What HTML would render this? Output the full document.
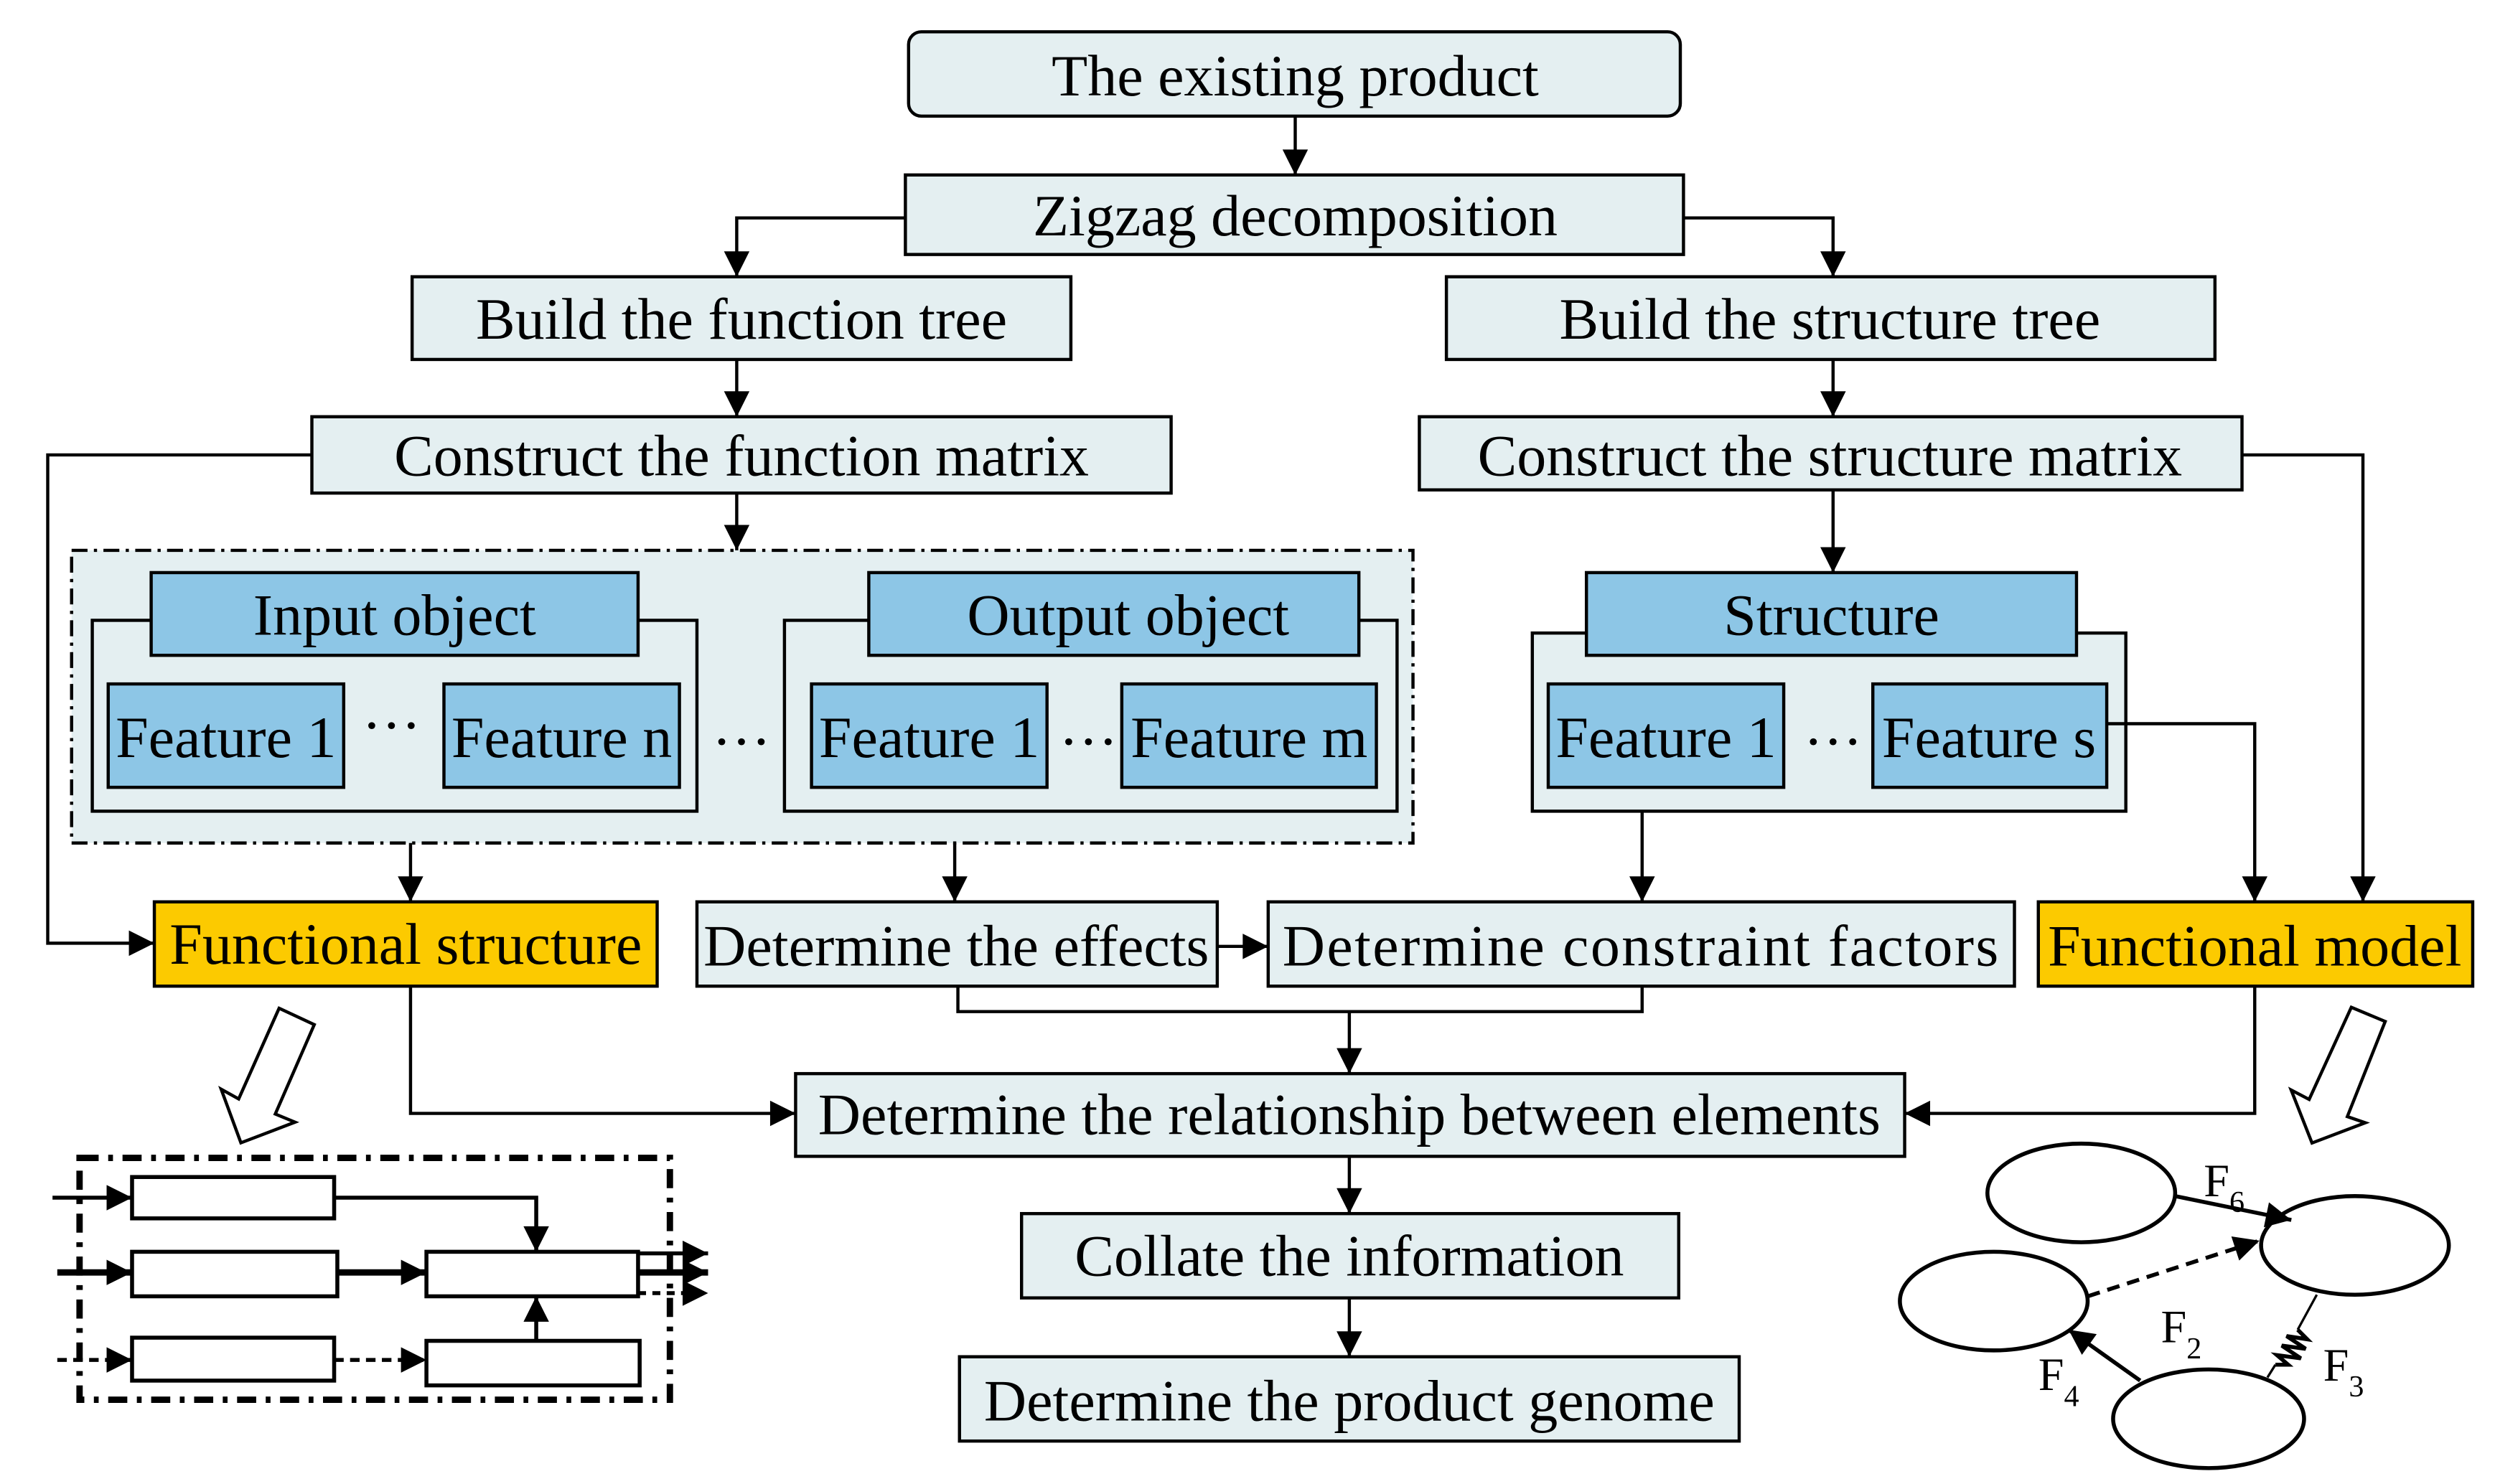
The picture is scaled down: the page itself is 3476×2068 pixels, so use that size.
<!DOCTYPE html>
<html><head><meta charset="utf-8"><style>html,body{margin:0;padding:0;background:#fff}svg{display:block}</style></head>
<body>
<svg width="3476" height="2068" viewBox="0 0 1568 933" preserveAspectRatio="none" xmlns="http://www.w3.org/2000/svg" font-family="'Liberation Serif', serif" font-size="37">
<defs>
<marker id="a" viewBox="0 0 10 10" refX="10" refY="5" markerWidth="18" markerHeight="16" markerUnits="userSpaceOnUse" orient="auto"><path d="M0,0L10,5L0,10z"/></marker>
<marker id="b" viewBox="0 0 10 10" refX="10" refY="5" markerWidth="18" markerHeight="16" markerUnits="userSpaceOnUse" orient="auto"><path d="M0,0L10,5L0,10z"/></marker>
</defs>
<g stroke="#000" stroke-width="2">
<rect x="571" y="20" width="485" height="53" rx="8" fill="#e4eff1"/>
<rect x="569" y="110" width="489" height="50" fill="#e4eff1"/>
<rect x="259" y="174" width="414" height="52" fill="#e4eff1"/>
<rect x="909" y="174" width="483" height="52" fill="#e4eff1"/>
<rect x="196" y="262" width="540" height="48" fill="#e4eff1"/>
<rect x="892" y="262" width="517" height="46" fill="#e4eff1"/>
<rect x="45" y="346" width="843" height="184" fill="#e4eff1" stroke-dasharray="10,4,2,4"/>
<rect x="58" y="390" width="380" height="120" fill="#e4eff1"/>
<rect x="493" y="390" width="385" height="120" fill="#e4eff1"/>
<rect x="963" y="398" width="373" height="112" fill="#e4eff1"/>
<g fill="#8dc6e6">
<rect x="95" y="360" width="306" height="52"/>
<rect x="546" y="360" width="308" height="52"/>
<rect x="997" y="360" width="308" height="52"/>
<rect x="68" y="430" width="148" height="65"/>
<rect x="279" y="430" width="148" height="65"/>
<rect x="510" y="430" width="148" height="65"/>
<rect x="705" y="430" width="160" height="65"/>
<rect x="973" y="430" width="148" height="65"/>
<rect x="1177" y="430" width="147" height="65"/>
</g>
<g fill="#fcca00">
<rect x="97" y="567" width="316" height="53"/>
<rect x="1281" y="567" width="273" height="53"/>
</g>
<g fill="#e4eff1">
<rect x="438" y="567" width="327" height="53"/>
<rect x="797" y="567" width="469" height="53"/>
<rect x="500" y="675" width="697" height="52"/>
<rect x="642" y="763" width="413" height="53"/>
<rect x="603" y="853" width="490" height="53"/>
</g>
<g fill="none" marker-end="url(#b)">
<path d="M814 73V110"/>
<path d="M569 137H463V174"/>
<path d="M1058 137H1152V174"/>
<path d="M463 226V262"/>
<path d="M1152 226V262"/>
<path d="M463 310V346"/>
<path d="M1152 308V360"/>
<path d="M196 286H30V593H97"/>
<path d="M1409 286H1485V567"/>
<path d="M1324 455H1417V567"/>
<path d="M258 530V567"/>
<path d="M600 530V567"/>
<path d="M1032 510V567"/>
<path d="M765 595H797"/>
<path d="M848 636V675"/>
<path d="M258 620V700H500"/>
<path d="M1417 620V700H1197"/>
<path d="M848 727V763"/>
<path d="M848 816V853"/>
</g>
<path d="M602 620V636H1032V620" fill="none"/>
<!-- bottom-left -->
<path d="M175.4 633.9L197.5 644.2L173 700.4L185.4 705.5L151.4 718.5L139 684.8L150 690.9Z" fill="#fff"/>
<rect x="50" y="728" width="371" height="152" fill="none" stroke-width="4" stroke-dasharray="12,6,3,6"/>
<g fill="#fff" stroke-width="2.5">
<rect x="83" y="740" width="127" height="26"/>
<rect x="83" y="787" width="129" height="28"/>
<rect x="83" y="841" width="127" height="27"/>
<rect x="268" y="787" width="133" height="28"/>
<rect x="268" y="843" width="134" height="28"/>
</g>
<g fill="none" marker-end="url(#a)" stroke-width="2.5">
<path d="M33 753H83"/>
<path d="M36 800H83" stroke-width="4"/>
<path d="M36 855H83" stroke-dasharray="6,4"/>
<path d="M210 753H337V787"/>
<path d="M212 800H268" stroke-width="4"/>
<path d="M210 855H268" stroke-dasharray="6,4"/>
<path d="M337 843V815"/>
<path d="M401 788H445"/>
<path d="M401 800H445" stroke-width="4"/>
<path d="M401 813H445" stroke-dasharray="5,4"/>
</g>
<!-- bottom-right -->
<path d="M1477.7 633.3L1499 642.2L1475.2 702L1486.5 705.9L1453 718.6L1439.9 685.3L1451.2 691.2Z" fill="#fff"/>
<g fill="#fff" stroke-width="2.5">
<ellipse cx="1308" cy="750" rx="59" ry="31"/>
<ellipse cx="1480" cy="783" rx="59" ry="31"/>
<ellipse cx="1253" cy="818" rx="59" ry="31"/>
<ellipse cx="1388" cy="892" rx="60" ry="31"/>
</g>
<g fill="none" stroke-width="2.5" marker-end="url(#a)">
<path d="M1367 752L1440 767"/>
<path d="M1312 815L1420 780" stroke-dasharray="8,5"/>
<path d="M1345 868L1300 836"/>
</g>
<path d="M1456 814L1444 836M1430 858L1425 866" fill="none" stroke-width="1.5"/>
<path d="M1444 836L1450 842L1437 840L1449 848L1434 846L1446 854L1431 852L1438 858L1430 858" fill="none" stroke-width="2.5"/>
</g>
<g text-anchor="middle" fill="#000">
<text x="814" y="60">The existing product</text>
<text x="814" y="148">Zigzag decomposition</text>
<text x="466" y="213">Build the function tree</text>
<text x="1150" y="213">Build the structure tree</text>
<text x="466" y="299">Construct the function matrix</text>
<text x="1150" y="299">Construct the structure matrix</text>
<text x="248" y="399">Input object</text>
<text x="709" y="399">Output object</text>
<text x="1151" y="399">Structure</text>
<text x="142" y="476">Feature 1</text>
<text x="353" y="476">Feature n</text>
<text x="584" y="476">Feature 1</text>
<text x="785" y="476">Feature m</text>
<text x="1047" y="476">Feature 1</text>
<text x="1250" y="476">Feature s</text>
<text x="246" y="458">…</text>
<text x="466" y="468">…</text>
<text x="684" y="468">…</text>
<text x="1152" y="468">…</text>
<text x="255" y="606">Functional structure</text>
<text x="601" y="607">Determine the effects</text>
<text x="1031" y="607" textLength="450">Determine constraint factors</text>
<text x="1417" y="607">Functional model</text>
<text x="848" y="713">Determine the relationship between elements</text>
<text x="848" y="802">Collate the information</text>
<text x="848" y="893">Determine the product genome</text>
<g font-size="29" text-anchor="start">
<text x="1385" y="752">F<tspan font-size="19" dy="10">6</tspan></text>
<text x="1358" y="844">F<tspan font-size="19" dy="10">2</tspan></text>
<text x="1460" y="868">F<tspan font-size="19" dy="10">3</tspan></text>
<text x="1281" y="874">F<tspan font-size="19" dy="10">4</tspan></text>
</g>
</g>
</svg>
</body></html>
